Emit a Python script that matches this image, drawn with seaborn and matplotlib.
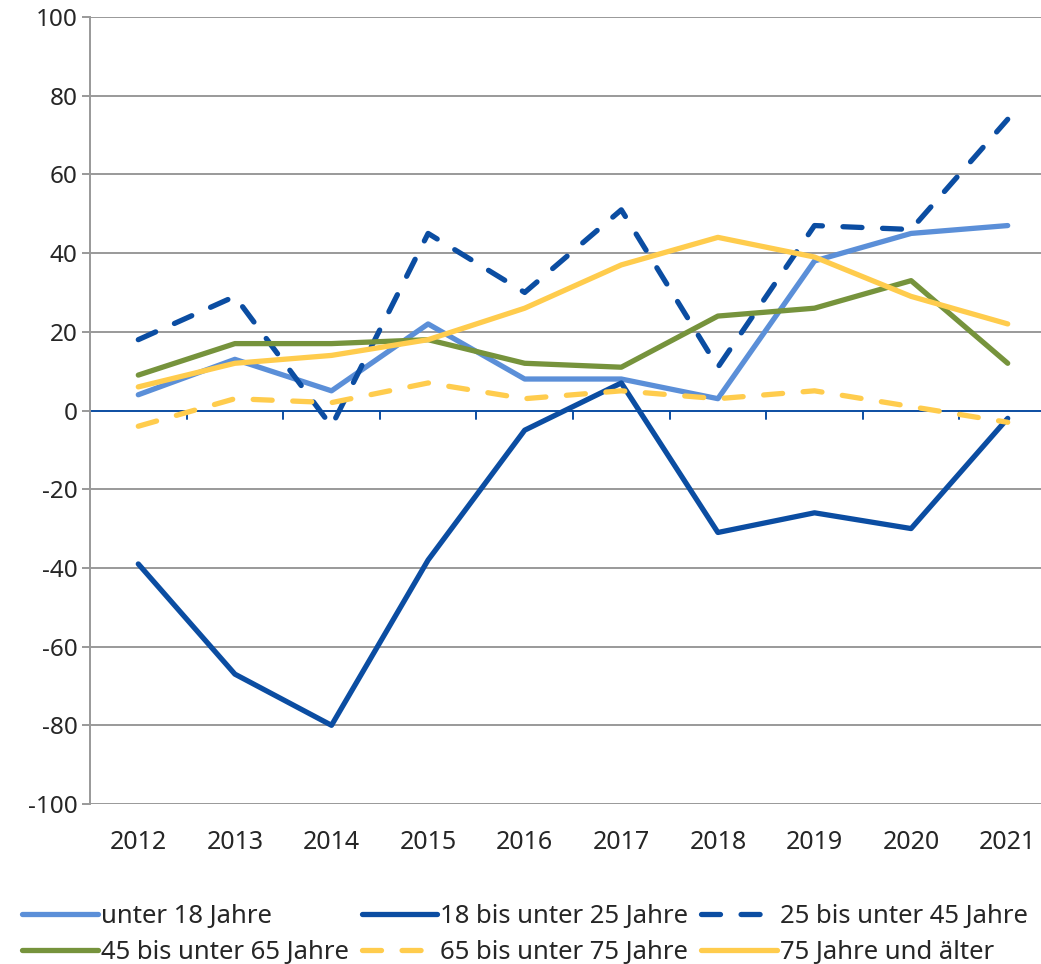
import pandas as pd
import seaborn as sns
import matplotlib.pyplot as plt
from matplotlib.lines import Line2D

years = ['2012', '2013', '2014', '2015', '2016', '2017', '2018', '2019', '2020', '2021']
unter18 = [4, 13, 5, 22, 8, 8, 3, 38, 45, 47]
bis25 = [-39, -67, -80, -38, -5, 7, -31, -26, -30, -2]
bis45 = [18, 29, -4, 45, 30, 51, 11, 47, 46, 74]
bis65 = [9, 17, 17, 18, 12, 11, 24, 26, 33, 12]
bis75 = [-4, 3, 2, 7, 3, 5, 3, 5, 1, -3]
ab75 = [6, 12, 14, 18, 26, 37, 44, 39, 29, 22]

names = ['unter 18 Jahre', '18 bis unter 25 Jahre', '25 bis unter 45 Jahre',
         '45 bis unter 65 Jahre', '65 bis unter 75 Jahre', '75 Jahre und älter']
series = [unter18, bis25, bis45, bis65, bis75, ab75]
colors = ['#5B8FD8', '#0B4DA2', '#0B4DA2', '#76933C', '#FFCC4D', '#FFCC4D']
dashed = [False, False, True, False, True, False]
dash_pat = (3.6, 3.9)

rows = []
for n, vals in zip(names, series):
    for i, v in enumerate(vals):
        rows.append({'pos': i, 'Jahr': years[i], 'Wert': v, 'Gruppe': n})
df = pd.DataFrame(rows)

sns.set_style('white')
plt.rcParams['font.family'] = ['Noto Sans', 'DejaVu Sans']
plt.rcParams['axes.unicode_minus'] = False

fig = plt.figure(figsize=(10.41, 9.64), dpi=100)
ax = fig.add_axes([90 / 1041, 1 - 804 / 964, 966 / 1041, 787 / 964])

pal = dict(zip(names, colors))
dash_map = {n: (dash_pat if d else '') for n, d in zip(names, dashed)}
sns.lineplot(data=df, x='pos', y='Wert', hue='Gruppe', style='Gruppe',
             palette=pal, dashes=dash_map, linewidth=3.8, ax=ax, legend=False,
             zorder=3)
for ln in ax.get_lines():
    ln.set_dash_capstyle('round')
    ln.set_solid_capstyle('round')

ax.set_xlim(-0.5, 9.5)
ax.set_ylim(-100, 100)
ax.set_yticks(range(-100, 101, 20))
ax.set_xticks(range(10))
ax.set_xticklabels(years)
for yv in range(-100, 101, 20):
    if yv != 0:
        ax.axhline(yv, color='#999999', lw=1.4, zorder=1)
ax.axhline(0, color='#0B4DA2', lw=1.4, zorder=2)
for xv in range(0, 11):
    ax.plot([xv - 0.5, xv - 0.5], [0, -2.2], color='#0B4DA2', lw=1.4, zorder=2,
            clip_on=False)

for s in ['top', 'right', 'bottom']:
    ax.spines[s].set_visible(False)
ax.spines['left'].set_color('#999999')
ax.spines['left'].set_linewidth(1.4)
ax.tick_params(axis='y', length=6, width=1.4, color='#999999', labelsize=17.5, pad=3,
               left=True)
ax.tick_params(axis='x', length=0, labelsize=18, pad=19)
ax.set_xlabel('')
ax.set_ylabel('')

handles = [Line2D([], [], color=c, lw=3.8, dashes=(dash_pat if d else (None, None)),
                  dash_capstyle='round', solid_capstyle='round')
           for c, d in zip(colors, dashed)]
order = [0, 3, 1, 4, 2, 5]
fig.legend([handles[i] for i in order], [names[i] for i in order], ncol=3,
           loc='upper left', bbox_to_anchor=(22 / 1041, 1 - 904 / 964),
           frameon=False, borderpad=0, borderaxespad=0,
           fontsize=18.5, handlelength=2.95, handletextpad=0.12,
           columnspacing=0.5, labelspacing=0.42)

plt.savefig('out.png', dpi=100)
